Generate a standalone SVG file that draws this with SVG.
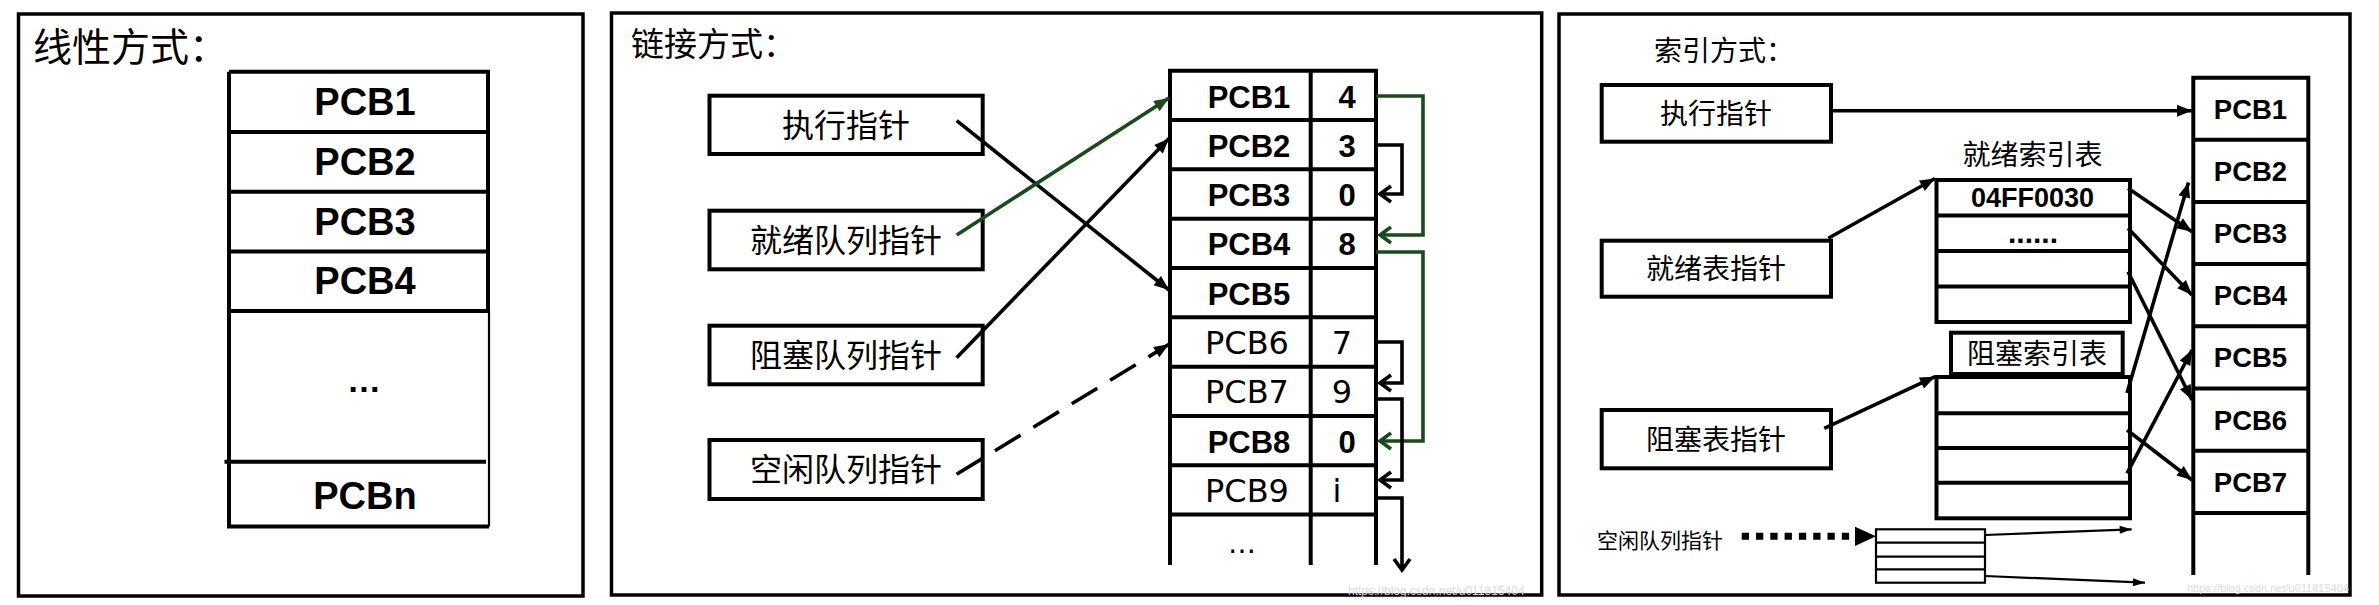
<svg xmlns="http://www.w3.org/2000/svg" width="2379" height="605" viewBox="0 0 2379 605">
<style>
.bg{fill:#fff}
.panel{fill:none;stroke:#000;stroke-width:3.5}
.box{fill:#fff;stroke:#000;stroke-width:4}
.ln{fill:none;stroke:#000;stroke-width:4}
.thin{fill:none;stroke:#000;stroke-width:2.2}
.cjk{font-family:'Noto Sans CJK SC','Noto Sans CJK TC',sans-serif;fill:#000}
.b{font-family:'Liberation Sans',Arial,sans-serif;font-weight:bold;fill:#000}
.r{font-family:'DejaVu Sans',Verdana,sans-serif;fill:#000}
.mid{text-anchor:middle}
.arr{fill:none;stroke:#000;stroke-width:3.6}
.grn{fill:none;stroke:#1c4a1c;stroke-width:3.6}
.wm{font-family:'Liberation Sans',Arial,sans-serif;fill:#dadada}
</style>
<defs>
<marker id="tri" markerUnits="userSpaceOnUse" viewBox="-15 -7 16 14" refX="0" refY="0" markerWidth="16" markerHeight="14" orient="auto" overflow="visible">
<path d="M-15,-6 L0,0 L-15,6 Z" fill="#000"/>
</marker>
<marker id="triG" markerUnits="userSpaceOnUse" viewBox="-15 -7 16 14" refX="0" refY="0" markerWidth="16" markerHeight="14" orient="auto" overflow="visible">
<path d="M-15,-6 L0,0 L-15,6 Z" fill="#1c4a1c"/>
</marker>
<marker id="triS" markerUnits="userSpaceOnUse" viewBox="-12 -5 13 10" refX="0" refY="0" markerWidth="13" markerHeight="10" orient="auto" overflow="visible">
<path d="M-12,-4 L0,0 L-12,4 Z" fill="#000"/>
</marker>
<marker id="chev" markerUnits="userSpaceOnUse" viewBox="-14 -10 16 20" refX="0" refY="0" markerWidth="16" markerHeight="20" orient="auto" overflow="visible">
<path d="M-11,-8 L0,0 L-11,8" fill="none" stroke="#000" stroke-width="3.6"/>
</marker>
<marker id="chevG" markerUnits="userSpaceOnUse" viewBox="-14 -10 16 20" refX="0" refY="0" markerWidth="16" markerHeight="20" orient="auto" overflow="visible">
<path d="M-11,-8 L0,0 L-11,8" fill="none" stroke="#1c4a1c" stroke-width="3.6"/>
</marker>
</defs>
<rect class="bg" x="0" y="0" width="2379" height="605"/>

<!-- ===== Panel 1: linear ===== -->
<g id="panel-linear">
<rect class="panel" x="18.5" y="14" width="564.5" height="582" stroke-width="4.5"/>
<text class="cjk" x="33" y="61" font-size="39">线性方式：</text>
</g>
<g id="linear-table">
<path class="ln" d="M229,71.8 H488 V311 M229,71.8 V526.6 H489 M229,132 H488 M229,191.7 H488 M229,251.5 H488 M229,311 H488 M224.5,461.8 H486" stroke-width="4.5"/>
<path class="thin" d="M489,311 V526.6"/>
<text class="b mid" x="365" y="115" font-size="38">PCB1</text>
<text class="b mid" x="365" y="175" font-size="38">PCB2</text>
<text class="b mid" x="365" y="234.6" font-size="38">PCB3</text>
<text class="b mid" x="365" y="294.3" font-size="38">PCB4</text>
<text class="b mid" x="364" y="392" font-size="34">…</text>
<text class="b mid" x="365" y="508.5" font-size="38">PCBn</text>
</g>

<!-- ===== Panel 2: linked ===== -->
<g id="panel-linked">
<rect class="panel" x="611.5" y="13" width="930.2" height="582"/>
<text class="cjk" x="631" y="56" font-size="33">链接方式：</text>
</g>
<g id="lk-exec">
<rect class="box" x="709.5" y="95.7" width="273.2" height="58.3"/>
<text class="cjk mid" x="846" y="136.5" font-size="32">执行指针</text>
</g>
<g id="lk-ready">
<rect class="box" x="709.5" y="210.7" width="273.2" height="58.6"/>
<text class="cjk mid" x="846" y="251.5" font-size="32">就绪队列指针</text>
</g>
<g id="lk-blocked">
<rect class="box" x="709.5" y="325.7" width="273.2" height="58.6"/>
<text class="cjk mid" x="846" y="366.5" font-size="32">阻塞队列指针</text>
</g>
<g id="lk-free">
<rect class="box" x="709.5" y="440" width="273.2" height="59"/>
<text class="cjk mid" x="846" y="481" font-size="32">空闲队列指针</text>
</g>
<g id="lk-table">
<path class="ln" d="M1170,565 V70.7 H1376 V565 M1310.7,70.7 V565 M1170,120 H1376 M1170,169.3 H1376 M1170,218.7 H1376 M1170,268 H1376 M1170,317.3 H1376 M1170,366.7 H1376 M1170,416 H1376 M1170,465.3 H1376 M1170,514.6 H1376"/>
<text class="b mid" x="1249" y="107.5" font-size="31">PCB1</text>
<text class="b mid" x="1347" y="107.5" font-size="31">4</text>
<text class="b mid" x="1249" y="156.8" font-size="31">PCB2</text>
<text class="b mid" x="1347" y="156.8" font-size="31">3</text>
<text class="b mid" x="1249" y="206.1" font-size="31">PCB3</text>
<text class="b mid" x="1347" y="206.1" font-size="31">0</text>
<text class="b mid" x="1249" y="255.4" font-size="31">PCB4</text>
<text class="b mid" x="1347" y="255.4" font-size="31">8</text>
<text class="b mid" x="1249" y="304.7" font-size="31">PCB5</text>
<text class="r mid" x="1247" y="354" font-size="32">PCB6</text>
<text class="r mid" x="1342" y="354" font-size="32">7</text>
<text class="r mid" x="1247" y="403.3" font-size="32">PCB7</text>
<text class="r mid" x="1342" y="403.3" font-size="32">9</text>
<text class="b mid" x="1249" y="452.6" font-size="31">PCB8</text>
<text class="b mid" x="1347" y="452.6" font-size="31">0</text>
<text class="r mid" x="1247" y="501.9" font-size="32">PCB9</text>
<text class="r mid" x="1337" y="501.9" font-size="32">i</text>
<text class="r mid" x="1242" y="553" font-size="28">…</text>
</g>
<g id="lk-connectors">
<path class="arr" d="M956.7,120.7 L1169,290" marker-end="url(#tri)"/>
<path class="grn" d="M956.7,235 L1169,98" marker-end="url(#triG)"/>
<path class="arr" d="M956.6,357.7 L1169,138.5" marker-end="url(#tri)"/>
<path class="arr" d="M956.6,474.3 L1169,344.3" stroke-dasharray="30 15" marker-end="url(#tri)"/>
<path class="grn" d="M1376,96 H1423 V235 H1380" marker-end="url(#chevG)"/>
<path class="grn" d="M1376,252 H1423 V441 H1380" marker-end="url(#chevG)"/>
<path class="arr" d="M1376,145 H1402 V194 H1380" marker-end="url(#chev)"/>
<path class="arr" d="M1376,342 H1402 V383 H1380" marker-end="url(#chev)"/>
<path class="arr" d="M1376,399 H1402 V480 H1380" marker-end="url(#chev)"/>
<path class="arr" d="M1376,498 H1402 V570" marker-end="url(#chev)"/>
</g>
<text class="wm" x="1348" y="595" font-size="12">https://blog.csdn.net/u011815404</text>

<!-- ===== Panel 3: indexed ===== -->
<g id="panel-index">
<rect class="panel" x="1559" y="14" width="791" height="581"/>
<text class="cjk" x="1654" y="61" font-size="28">索引方式：</text>
</g>
<g id="ix-exec">
<rect class="box" x="1601.7" y="85" width="229.3" height="56.7"/>
<text class="cjk mid" x="1716" y="124" font-size="28">执行指针</text>
</g>
<g id="ix-ready">
<rect class="box" x="1601.7" y="240.7" width="229.3" height="56"/>
<text class="cjk mid" x="1716" y="279" font-size="28">就绪表指针</text>
</g>
<g id="ix-blocked">
<rect class="box" x="1601.7" y="410" width="229.3" height="58.3"/>
<text class="cjk mid" x="1716" y="450" font-size="28">阻塞表指针</text>
</g>
<g id="ix-free">
<text class="cjk" x="1597" y="548" font-size="21">空闲队列指针</text>
</g>
<g id="ix-ready-table">
<text class="cjk mid" x="2032.5" y="165" font-size="28">就绪索引表</text>
<rect class="box" x="1936.5" y="180" width="193.5" height="142"/>
<path class="ln" d="M1936.5,215.5 H2130 M1936.5,251 H2130 M1936.5,286.5 H2130"/>
<text class="b mid" x="2032.5" y="206.7" font-size="27">04FF0030</text>
<text class="b mid" x="2033" y="243" font-size="30">......</text>
</g>
<g id="ix-blocked-table">
<rect class="box" x="1951" y="332.7" width="171.7" height="41.3"/>
<text class="cjk mid" x="2037" y="364" font-size="28">阻塞索引表</text>
<rect class="box" x="1936.5" y="377" width="193.5" height="141.3"/>
<path class="ln" d="M1936.5,413.3 H2130 M1936.5,448 H2130 M1936.5,482.7 H2130"/>
</g>
<g id="ix-free-table">
<rect class="thin" x="1876" y="529.3" width="109" height="53.4" stroke-width="2.6"/>
<path class="thin" d="M1876,542.7 H1985 M1876,556.7 H1985 M1876,569.3 H1985" stroke-width="2.6"/>
</g>
<g id="ix-pcb">
<path class="ln" d="M2193.3,575 V77.7 H2308.3 V575 M2193.3,139.7 H2308.3 M2193.3,201.9 H2308.3 M2193.3,264.1 H2308.3 M2193.3,326.3 H2308.3 M2193.3,388.5 H2308.3 M2193.3,450.7 H2308.3 M2193.3,512.9 H2308.3"/>
<text class="b mid" x="2250.5" y="118.6" font-size="27.5">PCB1</text>
<text class="b mid" x="2250.5" y="180.8" font-size="27.5">PCB2</text>
<text class="b mid" x="2250.5" y="243" font-size="27.5">PCB3</text>
<text class="b mid" x="2250.5" y="305.2" font-size="27.5">PCB4</text>
<text class="b mid" x="2250.5" y="367.4" font-size="27.5">PCB5</text>
<text class="b mid" x="2250.5" y="429.6" font-size="27.5">PCB6</text>
<text class="b mid" x="2250.5" y="491.8" font-size="27.5">PCB7</text>
</g>
<g id="ix-connectors">
<path class="arr" d="M1831,110.7 L2192,110.7" marker-end="url(#tri)"/>
<path class="arr" d="M1828.3,238.3 L1935,178.5" marker-end="url(#tri)"/>
<path class="arr" d="M1824.3,428.3 L1935,376.7" marker-end="url(#tri)"/>
<path class="arr" d="M2128,188.3 L2192,231.7" marker-end="url(#tri)"/>
<path class="arr" d="M2128,228.3 L2192,295" marker-end="url(#tri)"/>
<path class="arr" d="M2128,271.7 L2192,400" marker-end="url(#tri)"/>
<path class="arr" d="M2127,393 L2188.5,182.5" marker-end="url(#tri)"/>
<path class="arr" d="M2127,430 L2192,480" marker-end="url(#tri)"/>
<path class="arr" d="M2127,473.3 L2192,350" marker-end="url(#tri)"/>
<path fill="none" stroke="#000" stroke-width="7" stroke-dasharray="7.3 7" d="M1741.7,536.3 H1852"/>
<polygon points="1855,526.7 1876,536.3 1855,546" fill="#000"/>
<path class="thin" d="M1985,535 L2131.7,529.3" marker-end="url(#triS)"/>
<path class="thin" d="M1985,576 L2145,582.7" marker-end="url(#triS)"/>
</g>
<text class="wm" x="2187" y="592" font-size="11">https://blog.csdn.net/u011815404</text>
</svg>
